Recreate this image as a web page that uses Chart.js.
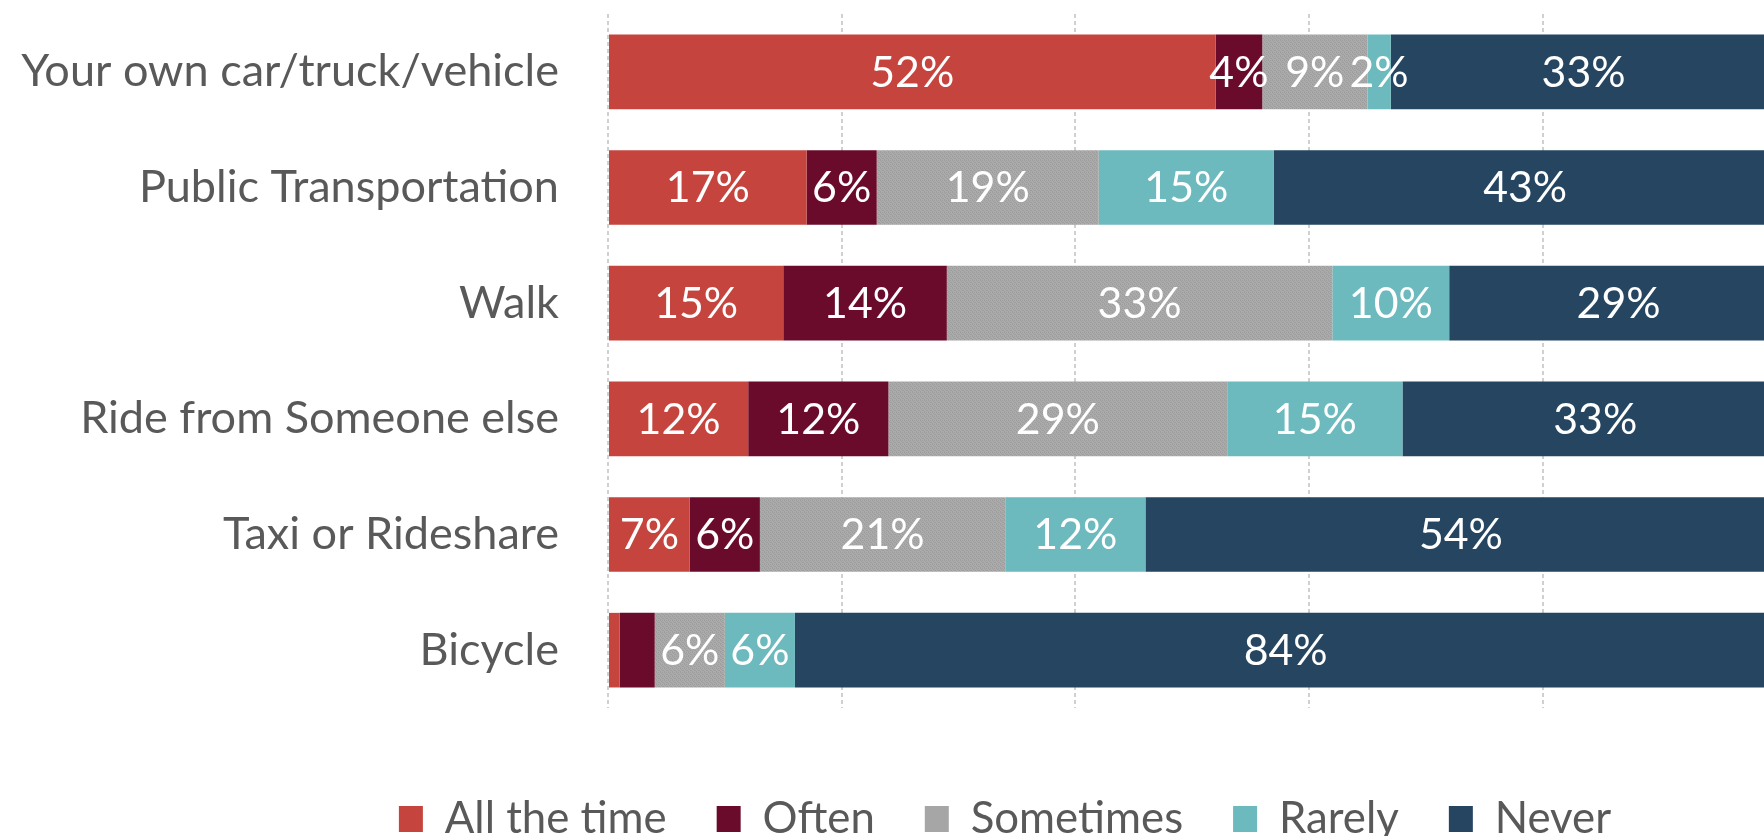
<!DOCTYPE html>
<html><head><meta charset="utf-8">
<script src="https://cdn.jsdelivr.net/npm/chart.js@4.4.1/dist/chart.umd.min.js"></script>
<style>
html,body{margin:0;padding:0;overflow:hidden;background:#fff;width:1764px;height:836px}
#wrap{position:absolute;left:0;top:0;width:2010px;height:836px}
</style>
</head><body><div id="wrap"><canvas id="c" width="2010" height="836"></canvas></div>
<script>
const categories = ["Your own car/truck/vehicle","Public Transportation","Walk","Ride from Someone else","Taxi or Rideshare","Bicycle"];
const seriesNames = ["All the time","Often","Sometimes","Rarely","Never"];
const allTheTime = [52,17,15,12,7,1];
const often      = [4,6,14,12,6,3];
const sometimes  = [9,19,33,29,21,6];
const rarely     = [2,15,10,15,12,6];
const never      = [33,43,29,33,54,84];
const xTickStep = 20;
const hiddenLabels = ["5-0","5-1"]; // category-series pairs without a value label

const colors = ["#C5443D","#6B0B2C","#A6A6A6","#6CB9BE","#254561"];
const textGray = "#595959";
const FAMILY = "Lato, 'Open Sans', sans-serif";

const mctx = document.createElement('canvas').getContext('2d');
function fitSize(text, w){ mctx.font = "100px " + FAMILY; return 100 * w / mctx.measureText(text).width; }
const tickSize = fitSize(categories[0], 538);
const labelSize = fitSize("52%", 84);
const legendSize = fitSize(seriesNames[0], 222);

// dithered pattern for "Sometimes"
function makePattern(){
  const p = document.createElement('canvas'); p.width = 4; p.height = 4;
  const g = p.getContext('2d');
  g.fillStyle = "#ABABAB"; g.fillRect(0,0,4,4);
  g.fillStyle = "#9E9E9E";
  [[0,0],[2,0],[1,1],[3,2],[0,3],[2,2]].forEach(([x,y])=>g.fillRect(x,y,1,1));
  return mctx.createPattern(p,'repeat');
}
const grayPattern = makePattern();

const seriesValues = [allTheTime, often, sometimes, rarely, never];
const datasets = seriesNames.map((n,i)=>({
  label: n,
  data: seriesValues[i],
  backgroundColor: i===2 ? grayPattern : colors[i],
  borderWidth: 0,
  categoryPercentage: 1,
  barPercentage: 0.645
}));

const valueLabels = {
  id: 'valueLabels',
  afterDatasetsDraw(chart){
    const ctx = chart.ctx;
    ctx.save();
    ctx.font = labelSize.toFixed(2) + "px " + FAMILY;
    ctx.fillStyle = "#FFFFFF";
    ctx.textAlign = "center";
    ctx.textBaseline = "middle";
    chart.data.datasets.forEach((ds, di)=>{
      const meta = chart.getDatasetMeta(di);
      meta.data.forEach((el, ci)=>{
        if (hiddenLabels.includes(ci + "-" + di)) return;
        const v = ds.data[ci];
        if (!v) return;
        const pt = el.getCenterPoint();
        ctx.fillText(v + "%", pt.x, pt.y + 1);
      });
    });
    ctx.restore();
  }
};

const legendShift = {
  id: 'legendShift',
  afterLayout(chart){
    const lg = chart.legend;
    const h = lg.bottom - lg.top;
    const pad = lg.options.labels.padding;
    const itemH = lg._itemHeight || h - 2*pad;
    const targetCenter = 799;
    const newTop = targetCenter - pad - itemH/2;
    lg.top = newTop; lg.bottom = newTop + h;
  }
};

new Chart(document.getElementById('c'), {
  type: 'bar',
  data: { labels: categories, datasets },
  plugins: [valueLabels, legendShift],
  options: {
    indexAxis: 'y',
    responsive: false,
    animation: false,
    devicePixelRatio: 1,
    layout: { padding: { top: 14, left: 0, right: 0, bottom: 0 } },
    scales: {
      x: {
        stacked: true, min: 0, max: 120,
        ticks: { display: false, stepSize: xTickStep },
        grid: { color: "#D0D0D0", lineWidth: 2, drawTicks: false },
        border: { display: false, dash: [4,3] },
        afterFit(s){
          s.height = Math.max(0, 836 - (s.chart.legend ? s.chart.legend.height : 0) - 708);
          s.paddingLeft = 0; s.paddingRight = 0;
        }
      },
      y: {
        stacked: true,
        grid: { display: false, drawTicks: false },
        border: { display: false },
        ticks: { color: textGray, font: { family: FAMILY, size: tickSize }, padding: 49 },
        afterFit(s){ s.width = 608; s.paddingTop = 0; s.paddingBottom = 0; }
      }
    },
    plugins: {
      legend: {
        position: 'bottom',
        labels: {
          color: textGray,
          font: { family: FAMILY, size: legendSize },
          boxWidth: 24, boxHeight: 26, padding: 50,
          generateLabels(chart){
            const items = Chart.defaults.plugins.legend.labels.generateLabels(chart);
            items.forEach((it,i)=>{ it.fillStyle = colors[i]; it.strokeStyle = colors[i]; it.lineWidth = 0; });
            return items;
          }
        }
      },
      tooltip: { enabled: false }
    }
  }
});
</script>
</body></html>
